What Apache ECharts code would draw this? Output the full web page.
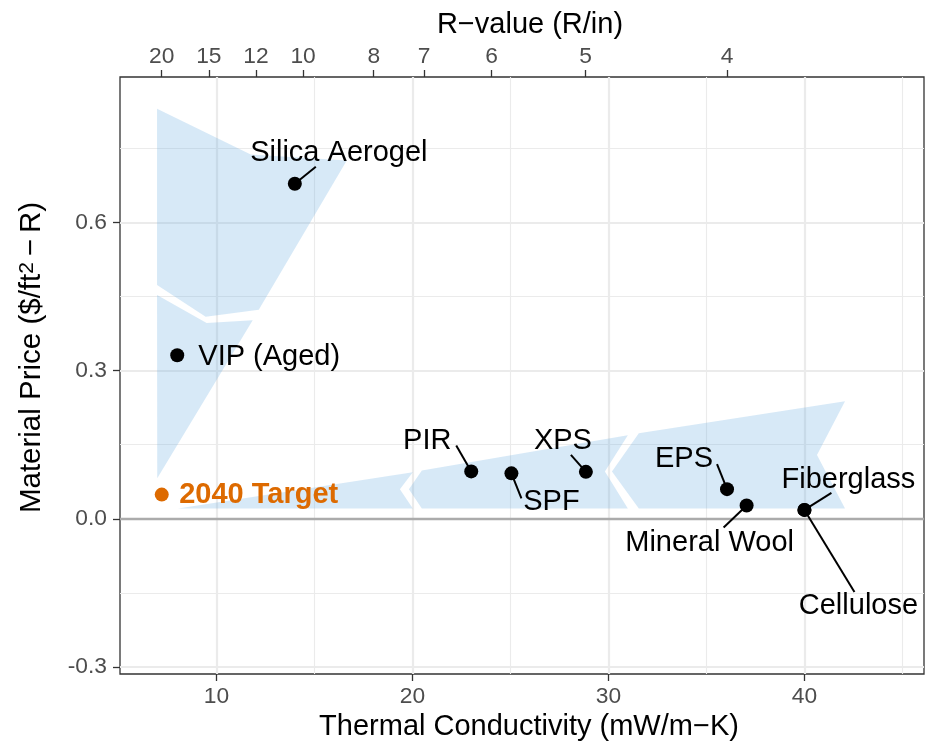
<!DOCTYPE html>
<html>
<head>
<meta charset="utf-8">
<script src="https://cdn.jsdelivr.net/npm/echarts@6/dist/echarts.min.js"></script>
<style>
  html, body { margin: 0; padding: 0; background: #fff; }
  #chart { width: 932px; height: 744px; }
</style>
</head>
<body>
<div id="chart"></div>
<script>
// insulation materials: thermal conductivity (mW/m-K) vs material price ($/ft2-R)
const materials = ['Silica Aerogel', 'VIP (Aged)', '2040 Target', 'PIR', 'SPF', 'XPS', 'EPS', 'Mineral Wool', 'Fiberglass', 'Cellulose'];
const conductivity = [14.0, 8.0, 7.21, 23.0, 25.05, 28.85, 36.05, 37.05, 40.0, 40.0];
const price = [0.678, 0.331, 0.049, 0.096, 0.092, 0.095, 0.060, 0.027, 0.018, 0.018];
const targetName = '2040 Target';

const xTicks = [10, 20, 30, 40];
const xMinorTicks = [15, 25, 35, 45];
const yTicks = [-0.3, 0, 0.3, 0.6];
const yMinorTicks = [-0.15, 0.15, 0.45, 0.75];
const rValueTicks = [20, 15, 12, 10, 8, 7, 6, 5, 4];

// arrow pieces (data units): price-reduction wedge and conductivity-reduction wedge
const priceArrow = [
  [[6.97, 0.830], [11.75, 0.737], [16.65, 0.725], [12.16, 0.423], [9.45, 0.409], [6.97, 0.473]],
  [[6.97, 0.453], [9.50, 0.396], [11.85, 0.402], [6.98, 0.082]]
];
const conductivityArrow = [
  [[8.04, 0.021], [20.02, 0.094], [19.36, 0.060], [20.02, 0.021]],
  [[20.48, 0.098], [30.99, 0.169], [29.82, 0.096], [30.99, 0.021], [20.48, 0.021], [19.82, 0.060]],
  [[31.55, 0.173], [42.07, 0.238], [40.64, 0.129], [42.07, 0.021], [31.55, 0.021], [30.18, 0.096]]
];

// label placement (pixel offsets from the point, like ggrepel put them)
const labelPlacement = {
  'Silica Aerogel': { dx: 44, dy: -31, line: [21, -17] },
  'VIP (Aged)': { dx: 92, dy: 2 },
  '2040 Target': { dx: 97, dy: 0 },
  'PIR': { dx: -44, dy: -30, line: [-15, -26] },
  'SPF': { dx: 40, dy: 29, line: [10, 25] },
  'XPS': { dx: -23, dy: -31, line: [-15, -17] },
  'EPS': { dx: -43, dy: -30, line: [-10, -25] },
  'Mineral Wool': { dx: -37, dy: 38, line: [-23, 22] },
  'Fiberglass': { dx: 44, dy: -30, line: [27, -17] },
  'Cellulose': { dx: 54, dy: 96, line: [50, 82] }
};

const font = "'Liberation Sans', Arial, Helvetica, sans-serif";
const xMin = 5.08, xMax = 46.1;
const yMin = -0.314, yMax = 0.894;
const R_PER_IN = 144.2; // R/in = 144.2 / k(mW/m-K)

const chart = echarts.init(document.getElementById('chart'));

const wedges = priceArrow.concat(conductivityArrow);

const tickLabel = { color: '#4D4D4D', fontSize: 22.8, fontFamily: font };
const tickStyle = { color: '#333', width: 1.3 };

const option = {
  animation: false,
  backgroundColor: '#fff',
  grid: {
    left: 120, right: 8, top: 77, bottom: 70,
    show: true, borderColor: '#333', borderWidth: 1.3,
    outerBoundsMode: 'none', containLabel: false
  },
  xAxis: [
    {
      type: 'value', position: 'bottom', min: xMin, max: xMax,
      name: 'Thermal Conductivity (mW/m\u2212K)', nameLocation: 'middle', nameGap: 38,
      nameTextStyle: { color: '#000', fontSize: 29, fontFamily: font, padding: [0, 0, 0, 14] },
      nameMoveOverlap: false,
      axisLine: { show: false, onZero: false },
      axisTick: { show: true, length: 7, customValues: xTicks, lineStyle: tickStyle },
      axisLabel: Object.assign({ customValues: xTicks, margin: 11 }, tickLabel),
      splitLine: { show: true, lineStyle: { color: '#EBEBEB', width: 2.2 } }
    },
    {
      type: 'value', position: 'top', min: xMin, max: xMax,
      name: 'R\u2212value (R/in)', nameLocation: 'middle', nameGap: 38,
      nameTextStyle: { color: '#000', fontSize: 29, fontFamily: font, padding: [0, 0, 0, 16] },
      nameMoveOverlap: false,
      axisLine: { show: false, onZero: false },
      axisTick: { show: true, length: 7, customValues: rValueTicks.map(r => R_PER_IN / r), lineStyle: tickStyle },
      axisLabel: Object.assign({
        customValues: rValueTicks.map(r => R_PER_IN / r), margin: 9,
        formatter: v => String(Math.round(R_PER_IN / v))
      }, tickLabel),
      splitLine: { show: false }
    },
    {
      type: 'value', position: 'bottom', min: xMin, max: xMax,
      axisLine: { show: false, onZero: false }, axisLabel: { show: false },
      axisTick: { show: false, customValues: xMinorTicks },
      splitLine: { show: true, lineStyle: { color: '#EBEBEB', width: 1.1 } }
    }
  ],
  yAxis: [
    {
      type: 'value', min: yMin, max: yMax,
      name: '{t|Material Price ($/ft}{s|2}{t|\u2009\u2212\u2009R)}', nameLocation: 'middle', nameGap: 73, nameRotate: 90,
      nameMoveOverlap: false,
      nameTextStyle: {
        padding: [0, 0, 0, 36],
        rich: {
          t: { color: '#000', fontSize: 29.5, fontFamily: font, lineHeight: 30, verticalAlign: 'bottom' },
          s: { color: '#000', fontSize: 21, fontFamily: font, lineHeight: 30, verticalAlign: 'top' }
        }
      },
      axisLine: { show: false, onZero: false },
      axisTick: { show: true, length: 7, customValues: yTicks, lineStyle: tickStyle },
      axisLabel: Object.assign({ customValues: yTicks, margin: 13, formatter: v => v.toFixed(1) }, tickLabel),
      splitLine: { show: true, lineStyle: { color: '#EBEBEB', width: 2.2 } }
    },
    {
      type: 'value', min: yMin, max: yMax,
      axisLine: { show: false, onZero: false }, axisLabel: { show: false },
      axisTick: { show: false, customValues: yMinorTicks },
      splitLine: { show: true, lineStyle: { color: '#EBEBEB', width: 1.1 } }
    }
  ],
  series: [
    {
      // zero reference line
      type: 'line', data: [], z: 1, silent: true,
      markLine: {
        silent: true, symbol: 'none', label: { show: false },
        lineStyle: { color: '#ABABAB', width: 2.3, type: 'solid' },
        data: [{ yAxis: 0 }]
      }
    },
    {
      type: 'custom', z: 2, silent: true,
      data: wedges.map(w => w[0]),
      encode: { x: 0, y: 1 },
      renderItem: (params, api) => {
        const pts = wedges[params.dataIndex].map(p => api.coord(p));
        return {
          type: 'polygon',
          shape: { points: pts },
          style: { fill: 'rgba(100,170,225,0.26)' }
        };
      }
    },
    {
      type: 'custom', z: 5, silent: true,
      data: materials.map((m, i) => [conductivity[i], price[i]]),
      encode: { x: 0, y: 1 },
      renderItem: (params, api) => {
        const name = materials[params.dataIndex];
        const p = api.coord([api.value(0), api.value(1)]);
        const place = labelPlacement[name];
        const isTarget = name === targetName;
        const color = isTarget ? '#DD6A00' : '#000';
        const children = [];
        if (place.line) {
          children.push({
            type: 'line',
            shape: { x1: p[0], y1: p[1], x2: p[0] + place.line[0], y2: p[1] + place.line[1] },
            style: { stroke: '#000', lineWidth: 2 }
          });
        }
        children.push({ type: 'circle', shape: { cx: p[0], cy: p[1], r: 7 }, style: { fill: color } });
        children.push({
          type: 'text', x: p[0] + place.dx, y: p[1] + place.dy,
          style: {
            text: name, fill: color, fontSize: 29, fontFamily: font,
            fontWeight: isTarget ? 'bold' : 'normal',
            align: 'center', verticalAlign: 'middle'
          }
        });
        return { type: 'group', children: children };
      }
    }
  ]
};

chart.setOption(option);
</script>
</body>
</html>
